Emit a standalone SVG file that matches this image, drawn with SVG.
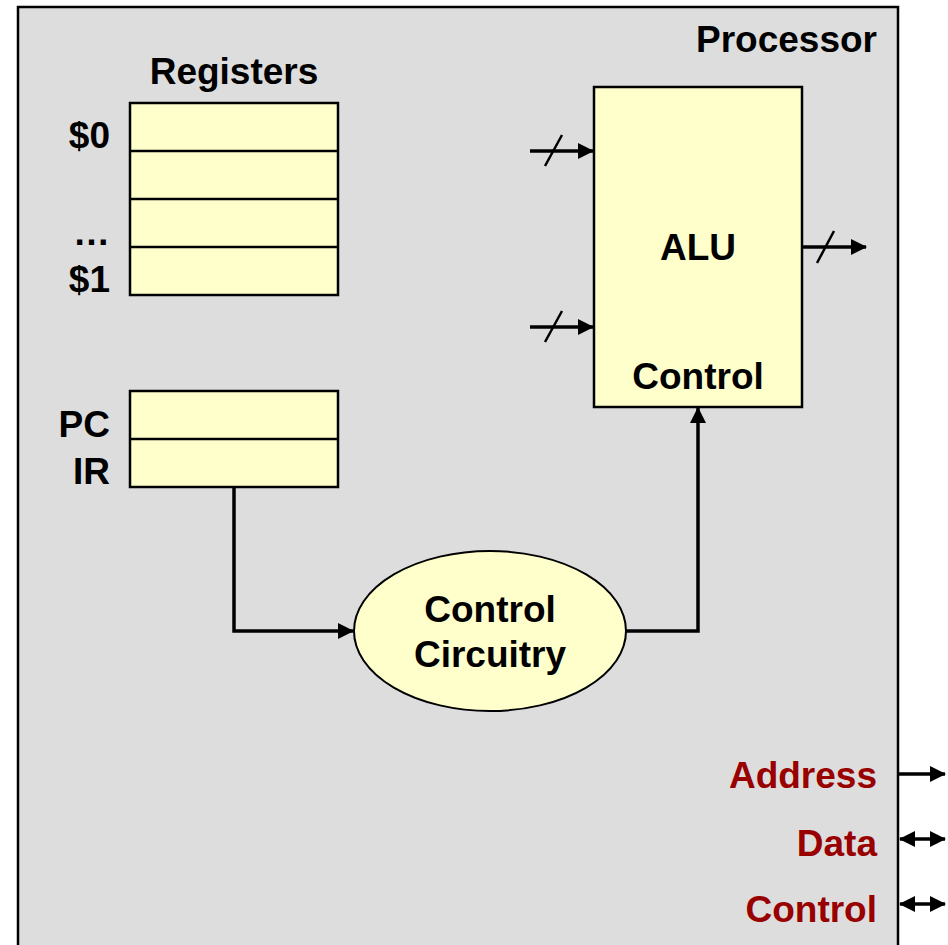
<svg xmlns="http://www.w3.org/2000/svg" width="948" height="945" viewBox="0 0 948 945">
<defs>
<style>
.t{font-family:"Liberation Sans",Arial,sans-serif;font-weight:bold;font-size:37px;fill:#000}
.r{text-anchor:end}
.m{text-anchor:middle}
.bus{fill:#990000}
.box{fill:#ffffcc;stroke:#000;stroke-width:2.5}
.ln{stroke:#000;stroke-width:2.5;fill:none}
.w{stroke:#000;stroke-width:3.5;fill:none}
</style>
<marker id="ah" viewBox="0 0 16 16" refX="15" refY="8" markerWidth="16" markerHeight="16" markerUnits="userSpaceOnUse" orient="auto-start-reverse">
<path d="M0,0 L16,8 L0,16 Z" fill="#000"/>
</marker>
</defs>
<rect x="0" y="0" width="948" height="945" fill="#fff"/>
<g id="processor">
<rect x="18" y="7" width="880" height="960" fill="#dddddd" stroke="#000" stroke-width="2.5"/>
<text class="t r" x="877" y="52">Processor</text>
</g>
<g id="registers">
<text class="t m" x="234" y="84">Registers</text>
<rect class="box" x="130" y="103" width="208" height="192"/>
<line class="ln" x1="130" y1="151" x2="338" y2="151"/>
<line class="ln" x1="130" y1="199" x2="338" y2="199"/>
<line class="ln" x1="130" y1="247" x2="338" y2="247"/>
<text class="t r" x="110" y="148">$0</text>
<text class="t r" x="110" y="245">…</text>
<text class="t r" x="110" y="292">$1</text>
</g>
<g id="pcir">
<rect class="box" x="130" y="391" width="208" height="96"/>
<line class="ln" x1="130" y1="439" x2="338" y2="439"/>
<text class="t r" x="110" y="437">PC</text>
<text class="t r" x="110" y="484">IR</text>
</g>
<g id="alu">
<rect class="box" x="594" y="87" width="208" height="320"/>
<text class="t m" x="698" y="260">ALU</text>
<text class="t m" x="698" y="389">Control</text>
</g>
<g id="control-circuitry">
<ellipse cx="490" cy="631" rx="136" ry="80" fill="#ffffcc" stroke="#000" stroke-width="2"/>
<text class="t m" x="490" y="622">Control</text>
<text class="t m" x="490" y="667">Circuitry</text>
</g>
<g id="buslabels">
<text class="t r bus" x="877" y="788">Address</text>
<text class="t r bus" x="877" y="856">Data</text>
<text class="t r bus" x="877" y="922">Control</text>
</g>
<g id="connectors">
<polyline class="w" points="234,487 234,631 353,631" marker-end="url(#ah)"/>
<polyline class="w" points="626,631 698,631 698,408" marker-end="url(#ah)"/>
<line class="w" x1="530" y1="151" x2="593" y2="151" marker-end="url(#ah)"/>
<line class="ln" x1="545" y1="166" x2="562" y2="135"/>
<line class="w" x1="530" y1="327" x2="593" y2="327" marker-end="url(#ah)"/>
<line class="ln" x1="545" y1="342" x2="562" y2="311"/>
<line class="w" x1="802" y1="247" x2="866" y2="247" marker-end="url(#ah)"/>
<line class="ln" x1="817" y1="263" x2="834" y2="231"/>
<line class="w" x1="899" y1="774" x2="945" y2="774" marker-end="url(#ah)"/>
<line class="w" x1="900" y1="839" x2="945" y2="839" marker-start="url(#ah)" marker-end="url(#ah)"/>
<line class="w" x1="900" y1="904" x2="945" y2="904" marker-start="url(#ah)" marker-end="url(#ah)"/>
</g>
</svg>
